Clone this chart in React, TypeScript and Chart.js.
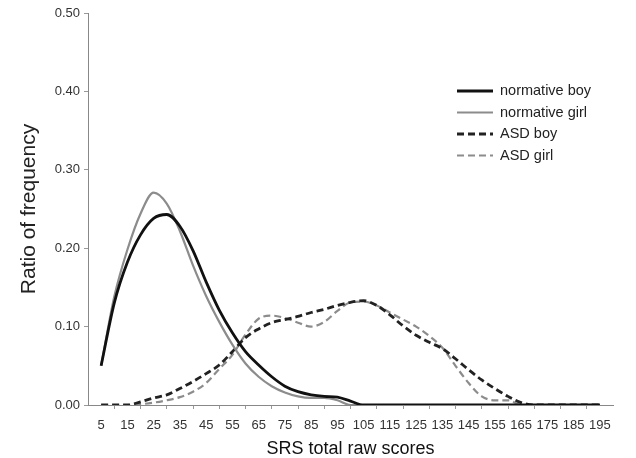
import React, { useEffect, useRef } from "react";
import { Chart, registerables } from "chart.js";

Chart.register(...registerables);

const xValues = [5, 10, 15, 20, 25, 30, 35, 40, 45, 50, 55, 60, 65, 70, 75, 80, 85, 90, 95, 100, 105, 110, 115, 120, 125, 130, 135, 140, 145, 150, 155, 160, 165, 170, 175, 180, 185, 190, 195];

const normativeBoy = [0.050, 0.130, 0.182, 0.217, 0.238, 0.243, 0.228, 0.197, 0.157, 0.121, 0.092, 0.068, 0.051, 0.036, 0.024, 0.017, 0.013, 0.011, 0.010, 0.005, 0, 0, 0, 0, 0, 0, 0, 0, 0, 0, 0, 0, 0, 0, 0, 0, 0, 0, 0];
const normativeGirl = [0.050, 0.138, 0.198, 0.244, 0.271, 0.257, 0.222, 0.178, 0.139, 0.106, 0.077, 0.053, 0.036, 0.024, 0.016, 0.011, 0.009, 0.009, 0.006, 0, 0, 0, 0, 0, 0, 0, 0, 0, 0, 0, 0, 0, 0, 0, 0, 0, 0, 0, 0];
const asdBoy = [0, 0, 0, 0.004, 0.009, 0.013, 0.021, 0.030, 0.040, 0.051, 0.068, 0.086, 0.097, 0.105, 0.109, 0.113, 0.118, 0.122, 0.127, 0.131, 0.133, 0.127, 0.115, 0.101, 0.089, 0.080, 0.072, 0.059, 0.045, 0.032, 0.021, 0.011, 0.003, 0, 0, 0, 0, 0, 0];
const asdGirl = [0, 0, 0, 0.001, 0.003, 0.006, 0.010, 0.017, 0.028, 0.046, 0.064, 0.090, 0.110, 0.114, 0.111, 0.105, 0.100, 0.106, 0.120, 0.131, 0.132, 0.127, 0.118, 0.109, 0.100, 0.088, 0.073, 0.050, 0.028, 0.011, 0.006, 0.006, 0, 0, 0, 0, 0, 0, 0];

const seriesNames = ["normative boy", "normative girl", "ASD boy", "ASD girl"];
const xTickLabels = [5, 15, 25, 35, 45, 55, 65, 75, 85, 95, 105, 115, 125, 135, 145, 155, 165, 175, 185, 195];
const yTickValues = [0, 0.1, 0.2, 0.3, 0.4, 0.5];

const FONT = "'Liberation Sans', Arial, sans-serif";

const legendPlugin = {
  id: "insideLegend",
  afterDraw(chart: any) {
    const ctx = chart.ctx;
    const rows = [91, 112.5, 134, 155.5];
    ctx.save();
    chart.data.datasets.forEach((ds: any, i: number) => {
      const y = rows[i];
      ctx.beginPath();
      ctx.strokeStyle = ds.borderColor;
      ctx.lineWidth = ds.borderWidth;
      ctx.setLineDash(ds.borderDash || []);
      ctx.moveTo(457, y);
      ctx.lineTo(493, y);
      ctx.stroke();
      ctx.setLineDash([]);
      ctx.fillStyle = "#222";
      ctx.font = `14.5px ${FONT}`;
      ctx.textBaseline = "middle";
      ctx.textAlign = "left";
      ctx.fillText(ds.label, 500, y);
    });
    ctx.restore();
  },
};

function toPoints(arr: number[]) {
  return arr.map((v, i) => ({ x: xValues[i], y: v }));
}

export default function App() {
  const ref = useRef<HTMLCanvasElement | null>(null);
  useEffect(() => {
    if (!ref.current) return;
    const chart = new Chart(ref.current, {
      type: "line",
      data: {
        datasets: [
          { label: seriesNames[0], data: toPoints(normativeBoy), borderColor: "#111", borderWidth: 2.8, pointRadius: 0, cubicInterpolationMode: "monotone", fill: false },
          { label: seriesNames[1], data: toPoints(normativeGirl), borderColor: "#8c8c8c", borderWidth: 2.2, pointRadius: 0, cubicInterpolationMode: "monotone", fill: false },
          { label: seriesNames[2], data: toPoints(asdBoy), borderColor: "#222", borderWidth: 2.8, borderDash: [7, 4], pointRadius: 0, cubicInterpolationMode: "monotone", fill: false },
          { label: seriesNames[3], data: toPoints(asdGirl), borderColor: "#8c8c8c", borderWidth: 2.2, borderDash: [7, 4], pointRadius: 0, cubicInterpolationMode: "monotone", fill: false },
        ],
      },
      plugins: [legendPlugin],
      options: {
        animation: false,
        responsive: true,
        maintainAspectRatio: false,
        layout: { padding: { left: 0, right: 23, top: 13, bottom: 0 } },
        plugins: { legend: { display: false }, tooltip: { enabled: false } },
        scales: {
          x: {
            type: "linear",
            min: 0,
            max: 200,
            afterBuildTicks: (scale: any) => {
              const t: any[] = [];
              for (let v = 0; v <= 200; v += 5) t.push({ value: v });
              scale.ticks = t;
            },
            afterFit: (scale: any) => { scale.height = 53; },
            ticks: {
              autoSkip: false,
              maxRotation: 0,
              padding: 9,
              color: "#333",
              font: { family: FONT, size: 13 },
              callback: (v: any) => (xTickLabels.includes(Number(v)) ? String(v) : ""),
            },
            grid: {
              drawOnChartArea: false,
              tickLength: 4,
              tickColor: (c: any) => (c.tick && c.tick.value % 10 === 0 && c.tick.value > 0 && c.tick.value < 200 ? "#999" : "rgba(0,0,0,0)"),
            },
            border: { color: "#888", dash: [1, 1], width: 1 },
            title: {
              display: true,
              text: "SRS total raw scores",
              color: "#111",
              font: { family: FONT, size: 18, lineHeight: 1 },
              padding: { top: 0, bottom: 0 },
            },
          },
          y: {
            min: 0,
            max: 0.5,
            afterBuildTicks: (scale: any) => {
              scale.ticks = yTickValues.map((v) => ({ value: v }));
            },
            afterFit: (scale: any) => { scale.width = 88; },
            ticks: {
              padding: 4,
              color: "#333",
              font: { family: FONT, size: 13 },
              callback: (v: any) => Number(v).toFixed(2),
            },
            grid: { drawOnChartArea: false, tickLength: 4, tickColor: "#999" },
            border: { color: "#888", dash: [1, 1], width: 1 },
            title: {
              display: true,
              text: "Ratio of frequency",
              color: "#222",
              font: { family: FONT, size: 21, lineHeight: 1.2 },
              padding: { top: 17, bottom: 0 },
            },
          },
        },
      },
    } as any);
    return () => chart.destroy();
  }, []);
  return (
    <div style={{ position: "fixed", left: 0, top: 0, width: 636, height: 458, background: "#fff" }}>
      <canvas ref={ref} />
    </div>
  );
}
